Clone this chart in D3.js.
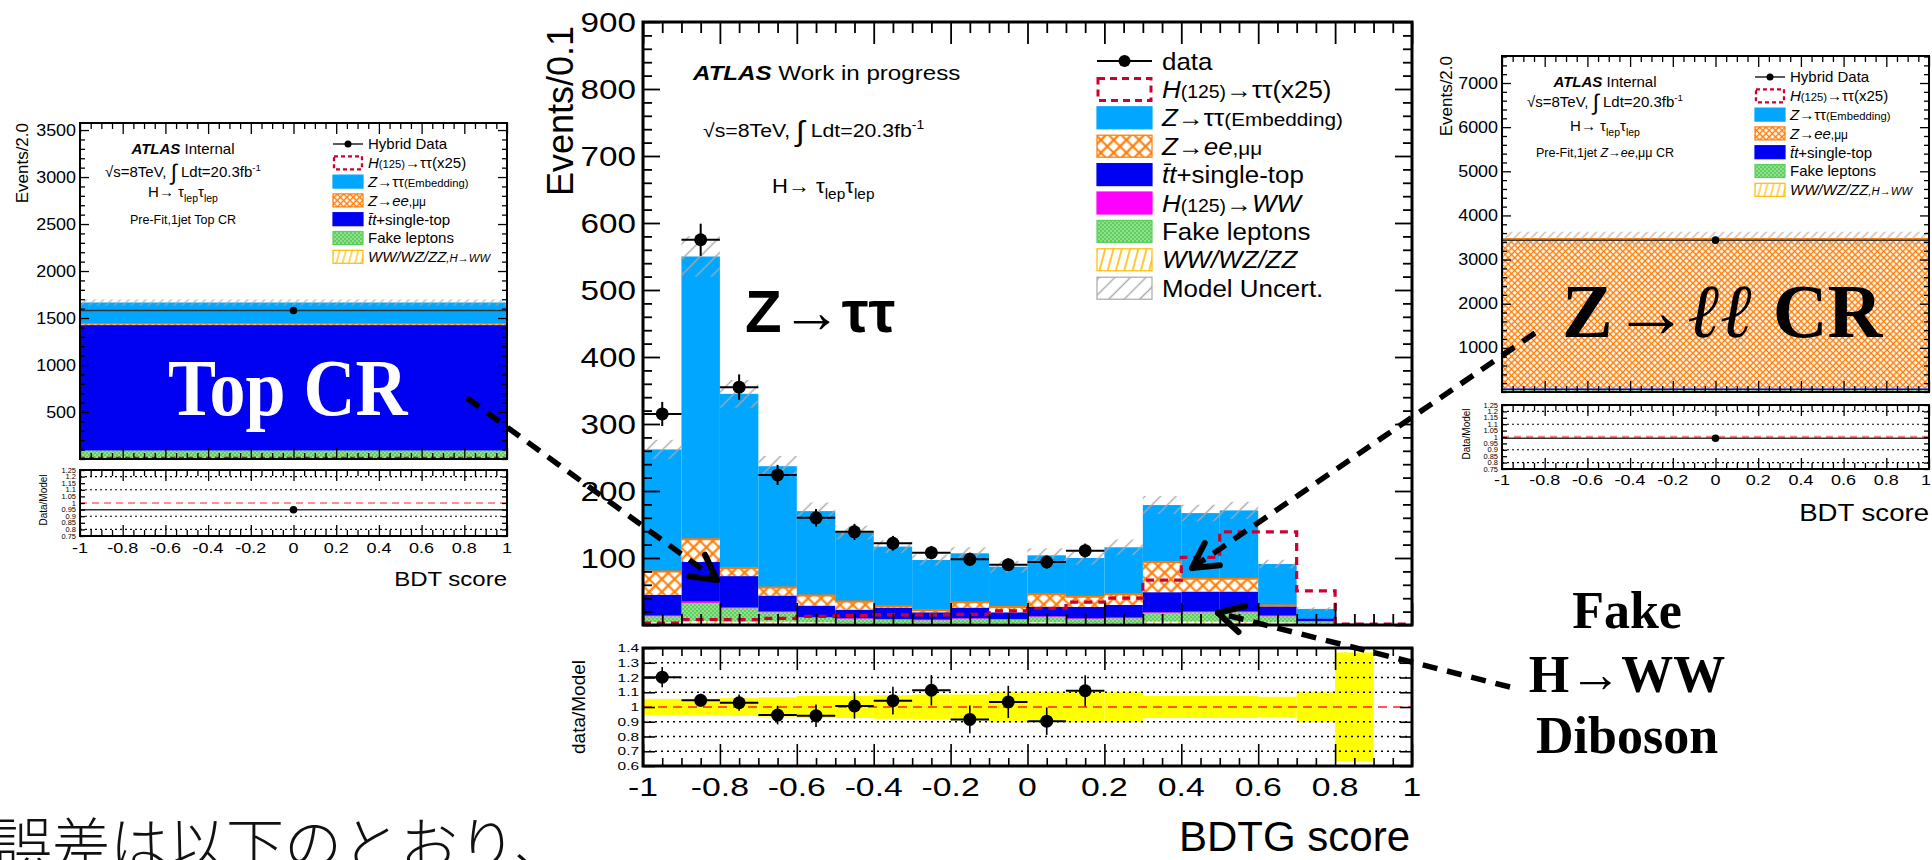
<!DOCTYPE html>
<html>
<head>
<meta charset="utf-8">
<script src="https://cdn.jsdelivr.net/npm/d3@7"></script>
<style>
  html, body { margin: 0; padding: 0; background: #fff; overflow: hidden; }
</style>
</head>
<body>
<script>
// ---------------- BDTG score distribution, 20 bins of width 0.1 ----------------
const binEdges = [-1, -0.9, -0.8, -0.7, -0.6, -0.5, -0.4, -0.3, -0.2, -0.1, 0,
                  0.1, 0.2, 0.3, 0.4, 0.5, 0.6, 0.7, 0.8, 0.9, 1];
const dibosonYield = [4, 6, 5, 5, 4, 3, 3, 3, 3, 3, 4, 3, 3, 5, 5, 5, 4, 3, 0.3, 0];
const fakeYield    = [9, 27, 20, 14, 7, 6, 5, 4, 6, 5, 8, 6, 7, 13, 14, 14, 9, 2, 0.3, 0];
const hwwYield     = [1, 2, 1, 1, 1, 1, 1, 1, 1, 1, 1, 1, 1, 1, 1, 1, 1, 1, 0.1, 0];
const topYield     = [31, 59, 47, 24, 17, 13, 17, 11, 16, 10, 14, 17, 19, 30, 30, 30, 14, 4, 0.3, 0];
const zllYield     = [35, 34, 12, 12, 15, 12, 2, 3, 8, 8, 19, 15, 16, 45, 19, 19, 1, 0, 0.2, 0];
const zttYield     = [182, 422, 260, 181, 126, 103, 89, 75, 73, 60, 58, 58, 70, 85, 98, 102, 62, 14, 0.8, 0];
const higgsX25     = [3, 8, 8, 10, 13, 14, 15, 15, 16, 21, 25, 34, 40, 67, 101, 139, 139, 51, 1.5, 1.5];
const modelUnc     = [0.055, 0.055, 0.06, 0.065, 0.075, 0.075, 0.08, 0.085, 0.085, 0.10,
                      0.10, 0.10, 0.10, 0.075, 0.075, 0.075, 0.07, 0.10, 0.37, 0];
const dataCounts   = [315, 575, 355, 224, 160, 139, 122, 108, 98, 90, 94, 111];
const dataErr      = [18, 24, 19, 15, 13, 12, 11, 10, 10, 9.5, 9.7, 10.5];

const xTickLabels     = ["-1", "-0.8", "-0.6", "-0.4", "-0.2", "0", "0.2", "0.4", "0.6", "0.8", "1"];
const yTickLabels     = ["100", "200", "300", "400", "500", "600", "700", "800", "900"];
const ratioTickLabels = ["0.6", "0.7", "0.8", "0.9", "1", "1.1", "1.2", "1.3", "1.4"];

// ---------------- control regions: one bin each ----------------
const crKeys        = ["dib", "fake", "top", "zll", "ztt"];
const topCRYield    = [10, 80, 1335, 15, 225];
const topCRData     = 1580;
const topCRHiggs    = 15;
const topCRUnc      = 0.02;
const zllCRYield    = [25, 20, 40, 3385, 5];
const zllCRData     = 3440;
const zllCRHiggs    = 10;
const zllCRUnc      = 0.045;
const topCRYTicks   = ["500", "1000", "1500", "2000", "2500", "3000", "3500"];
const zllCRYTicks   = ["1000", "2000", "3000", "4000", "5000", "6000", "7000"];
const crRatioTicks  = ["0.75", "0.8", "0.85", "0.9", "0.95", "1", "1.05", "1.1", "1.15", "1.2", "1.25"];

// ---------------- drawing ----------------
const W = 1932, H = 860;
const SANS = "'Liberation Sans', Arial, Helvetica, sans-serif";
const SERIF = "'Liberation Serif', 'Times New Roman', serif";
const C = {
  ztt: "#00a6ff", top: "#0000f2", hww: "#ff00ff", higgs: "#cc0033",
  zll: "#ff7a00", dib: "#ffbb00", fake: "#5ccf5c", band: "#ffff00"
};

const svg = d3.select("body").append("svg").attr("width", W).attr("height", H);
svg.append("rect").attr("width", W).attr("height", H).attr("fill", "#fff");
const defs = svg.append("defs");

function addPattern(id, size, bg, rot, draw) {
  const p = defs.append("pattern").attr("id", id)
    .attr("patternUnits", "userSpaceOnUse").attr("width", size).attr("height", size);
  if (rot) p.attr("patternTransform", `rotate(${rot})`);
  if (bg) p.append("rect").attr("width", size).attr("height", size).attr("fill", bg);
  draw(p, size);
}
const gridLines = (sw, col) => (p, s) => p.append("path")
  .attr("d", `M0,${s / 2}H${s}M${s / 2},0V${s}`).attr("stroke", col).attr("stroke-width", sw);
const vLine = (sw, col) => (p, s) => p.append("path")
  .attr("d", `M${s / 2},0V${s}`).attr("stroke", col).attr("stroke-width", sw);
const dots = (p, s) => {
  p.append("circle").attr("cx", s / 4).attr("cy", s / 4).attr("r", 0.8).attr("fill", "#d8f5d8");
  p.append("circle").attr("cx", 3 * s / 4).attr("cy", 3 * s / 4).attr("r", 0.8).attr("fill", "#d8f5d8");
};
addPattern("zllP", 9, "#fff", 45, gridLines(2.2, C.zll));
addPattern("zllS", 4.5, "#fff", 45, gridLines(1.4, C.zll));
addPattern("fakeP", 4, C.fake, 0, dots);
addPattern("dibP", 8, "#fff", 15, vLine(1.6, C.dib));
addPattern("dibS", 6, "#fff", 15, vLine(1.2, C.dib));
addPattern("hatchP", 11, null, 45, vLine(1.4, "#a8a8a8"));
addPattern("hatchS", 6, null, 45, vLine(1.1, "#a8a8a8"));

// text with optional italic / smaller / super- and subscript pieces
function rich(g, x, y, parts, o = {}) {
  const size = o.size || 20;
  let tr = `translate(${x},${y})`;
  if (o.rotate) tr += ` rotate(${o.rotate})`;
  if (o.sx && o.sx !== 1) tr += ` scale(${o.sx},1)`;
  const t = g.append("text").attr("transform", tr)
    .attr("font-family", o.family || SANS).attr("font-size", size)
    .attr("text-anchor", o.anchor || "start").attr("fill", o.fill || "#000")
    .attr("font-weight", o.weight || "normal").attr("font-style", o.style || "normal");
  let shift = 0;
  (Array.isArray(parts) ? parts : [parts]).forEach(p => {
    if (typeof p === "string") p = { t: p };
    const target = p.sup ? -0.42 * size : p.sub ? 0.3 * size : (p.dy || 0);
    const ts = t.append("tspan").text(p.t);
    if (target !== shift) { ts.attr("dy", target - shift); shift = target; }
    if (p.f) ts.attr("font-size", size * p.f);
    if (p.i) ts.attr("font-style", "italic");
    if (p.b) ts.attr("font-weight", "bold");
    if (p.family) ts.attr("font-family", p.family);
  });
  return t;
}

// inward ticks on all four sides of a frame, drawn with d3 axis generators
function frameTicks(g, x, y, o) {
  const [x0, x1] = x.range(), [yb, yt] = y.range();
  const side = (gen, tr, vals, len) => g.append("g").attr("transform", tr)
    .call(gen.tickValues(vals).tickSize(-len).tickFormat(""))
    .call(s => s.select(".domain").remove())
    .selectAll("line").attr("stroke", "#000").attr("stroke-width", o.tw || 1.6);
  side(d3.axisBottom(x), `translate(0,${yb})`, o.xMaj, o.xMajLen);
  side(d3.axisBottom(x), `translate(0,${yb})`, o.xMin, o.xMinLen);
  side(d3.axisTop(x), `translate(0,${yt})`, o.xMaj, o.xMajLen);
  side(d3.axisTop(x), `translate(0,${yt})`, o.xMin, o.xMinLen);
  side(d3.axisLeft(y), `translate(${x0},0)`, o.yMaj, o.yMajLen);
  side(d3.axisRight(y), `translate(${x1},0)`, o.yMaj, o.yMajLen);
  if (o.yMin) {
    side(d3.axisLeft(y), `translate(${x0},0)`, o.yMin, o.yMinLen);
    side(d3.axisRight(y), `translate(${x1},0)`, o.yMin, o.yMinLen);
  }
  g.append("rect").attr("x", x0).attr("y", yt).attr("width", x1 - x0).attr("height", yb - yt)
    .attr("fill", "none").attr("stroke", "#000").attr("stroke-width", o.fw || 3);
}

const xMajorVals = xTickLabels.map(Number);
const xMinorVals = d3.range(-1, 1.0001, 0.05).map(v => +v.toFixed(2)).filter(v => !xMajorVals.includes(v));

// ================= main panel =================
const main = svg.append("g");
const x = d3.scaleLinear().domain([-1, 1]).range([643, 1412]);
const y = d3.scaleLinear().domain([0, 900]).range([625, 22]);
const yr = d3.scaleLinear().domain([0.6, 1.4]).range([766, 648]);

const stackKeys = ["dib", "fake", "hww", "top", "zll", "ztt"];
const rows = binEdges.slice(0, -1).map((e, i) => ({
  dib: dibosonYield[i], fake: fakeYield[i], hww: hwwYield[i],
  top: topYield[i], zll: zllYield[i], ztt: zttYield[i]
}));
const series = d3.stack().keys(stackKeys)(rows);
const fills = { dib: "url(#dibP)", fake: "url(#fakeP)", hww: C.hww, top: C.top, zll: "url(#zllP)", ztt: C.ztt };
const total = rows.map(r => stackKeys.reduce((s, k) => s + r[k], 0));

series.forEach(s => {
  main.append("g").selectAll("rect").data(s.map((d, i) => ({ d, i })).filter(e => e.d[1] > e.d[0]))
    .join("rect")
    .attr("x", e => x(binEdges[e.i])).attr("width", e => x(binEdges[e.i + 1]) - x(binEdges[e.i]))
    .attr("y", e => y(e.d[1])).attr("height", e => y(e.d[0]) - y(e.d[1]))
    .attr("fill", fills[s.key]);
});
// orange outline on top of the Z->ee,mumu component
const zllSeries = series.find(s => s.key === "zll");
main.append("g").selectAll("line").data(zllSeries.map((d, i) => ({ d, i })).filter(e => e.d[1] - e.d[0] > 0.5))
  .join("line")
  .attr("x1", e => x(binEdges[e.i])).attr("x2", e => x(binEdges[e.i + 1]))
  .attr("y1", e => y(e.d[1])).attr("y2", e => y(e.d[1]))
  .attr("stroke", C.zll).attr("stroke-width", 2);

// model uncertainty hatch
main.append("g").selectAll("rect").data(total.map((t, i) => ({ t, i })).filter(e => e.t > 0 && modelUnc[e.i] > 0))
  .join("rect")
  .attr("x", e => x(binEdges[e.i])).attr("width", e => x(binEdges[e.i + 1]) - x(binEdges[e.i]))
  .attr("y", e => y(e.t * (1 + modelUnc[e.i]))).attr("height", e => y(e.t * (1 - modelUnc[e.i])) - y(e.t * (1 + modelUnc[e.i])))
  .attr("fill", "url(#hatchP)");

// H->tautau x25 dashed outline
const higgsPts = binEdges.map((e, i) => [e, higgsX25[Math.min(i, higgsX25.length - 1)]]);
main.append("path").datum(higgsPts)
  .attr("d", d3.line().x(d => x(d[0])).y(d => y(d[1])).curve(d3.curveStepAfter))
  .attr("fill", "none").attr("stroke", C.higgs).attr("stroke-width", 3.2).attr("stroke-dasharray", "8,6");

// data points
const dataG = main.append("g");
dataCounts.forEach((v, i) => {
  const cx = x((binEdges[i] + binEdges[i + 1]) / 2);
  dataG.append("line").attr("x1", x(binEdges[i])).attr("x2", x(binEdges[i + 1]))
    .attr("y1", y(v)).attr("y2", y(v)).attr("stroke", "#000").attr("stroke-width", 2);
  dataG.append("line").attr("x1", cx).attr("x2", cx)
    .attr("y1", y(v + dataErr[i])).attr("y2", y(v - dataErr[i])).attr("stroke", "#000").attr("stroke-width", 2);
  dataG.append("circle").attr("cx", cx).attr("cy", y(v)).attr("r", 6.5).attr("fill", "#000");
});

frameTicks(main, x, y, {
  xMaj: xMajorVals, xMin: xMinorVals, xMajLen: 22, xMinLen: 11,
  yMaj: yTickLabels.map(Number).concat([0]), yMin: d3.range(20, 900, 20).filter(v => v % 100),
  yMajLen: 17, yMinLen: 9, fw: 3, tw: 1.8
});
yTickLabels.forEach(l => rich(main, 636, y(+l) + 9.5, l, { size: 27, sx: 1.23, anchor: "end" }));
rich(main, 573, 26, "Events/0.1", { size: 36, rotate: -90, anchor: "end" });

// header texts
rich(main, 693, 80, [{ t: "ATLAS", b: 1, i: 1 }, " Work in progress"], { size: 21, sx: 1.15 });
rich(main, 703, 137, ["√s=8TeV, ", { t: "∫", f: 1.5, dy: 4 }, { t: " Ldt=20.3fb" }, { t: "-1", sup: 1, f: 0.65 }], { size: 19, sx: 1.12 });
rich(main, 772, 193, ["H→ τ", { t: "lep", sub: 1, f: 0.7 }, "τ", { t: "lep", sub: 1, f: 0.7 }], { size: 20, sx: 1.1 });

// legend
const legX = 1097, legW = 55, legH = 22, legTx = 1162, legY0 = 61, legDy = 28.4;
const legEntries = [
  { type: "data", label: ["data"] },
  { type: "dash", label: [{ t: "H", i: 1 }, { t: "(125)", f: 0.75 }, "→ττ(x25)"] },
  { fill: C.ztt, stroke: C.ztt, label: [{ t: "Z", i: 1 }, "→ττ", { t: "(Embedding)", f: 0.8 }] },
  { fill: "url(#zllP)", stroke: C.zll, label: [{ t: "Z", i: 1 }, "→", { t: "ee", i: 1 }, { t: ",μμ", f: 0.8 }] },
  { fill: C.top, stroke: C.top, label: [{ t: "t̄t", i: 1 }, "+single-top"] },
  { fill: C.hww, stroke: C.hww, label: [{ t: "H", i: 1 }, { t: "(125)", f: 0.75 }, "→", { t: "WW", i: 1 }] },
  { fill: "url(#fakeP)", stroke: C.fake, label: ["Fake leptons"] },
  { fill: "url(#dibP)", stroke: C.dib, label: [{ t: "WW/WZ/ZZ", i: 1 }] },
  { fill: "url(#hatchP)", stroke: "#a8a8a8", label: ["Model Uncert."] }
];
function legend(g, entries, o) {
  entries.forEach((e, i) => {
    const cy = o.y0 + i * o.dy;
    if (e.type === "data") {
      g.append("line").attr("x1", o.x).attr("x2", o.x + o.w).attr("y1", cy).attr("y2", cy)
        .attr("stroke", "#000").attr("stroke-width", o.lw);
      g.append("circle").attr("cx", o.x + o.w / 2).attr("cy", cy).attr("r", o.r).attr("fill", "#000");
    } else if (e.type === "dash") {
      g.append("rect").attr("x", o.x + 1).attr("y", cy - o.h / 2).attr("width", o.w - 2).attr("height", o.h)
        .attr("fill", "none").attr("stroke", C.higgs).attr("stroke-width", o.lw + 1)
        .attr("stroke-dasharray", o.dash);
    } else {
      g.append("rect").attr("x", o.x).attr("y", cy - o.h / 2).attr("width", o.w).attr("height", o.h)
        .attr("fill", e.fill).attr("stroke", e.stroke).attr("stroke-width", 1.2);
    }
    rich(g, o.tx, cy + o.size * 0.36, e.label, { size: o.size, sx: o.sx });
  });
}
legend(main, legEntries, { x: legX, w: legW, h: legH, tx: legTx, y0: legY0, dy: legDy, size: 24, sx: 1.08, lw: 2, r: 6, dash: "7,5" });

// ---- ratio panel ----
const ratio = svg.append("g");
ratio.append("g").selectAll("rect").data(modelUnc.map((u, i) => ({ u, i })).filter(e => e.u > 0))
  .join("rect")
  .attr("x", e => x(binEdges[e.i])).attr("width", e => x(binEdges[e.i + 1]) - x(binEdges[e.i]))
  .attr("y", e => yr(1 + e.u)).attr("height", e => yr(1 - e.u) - yr(1 + e.u))
  .attr("fill", C.band);
[0.7, 0.8, 0.9, 1.1, 1.2, 1.3].forEach(v => ratio.append("line")
  .attr("x1", x(-1)).attr("x2", x(1)).attr("y1", yr(v)).attr("y2", yr(v))
  .attr("stroke", "#000").attr("stroke-width", 1.6).attr("stroke-dasharray", "2,4"));
ratio.append("line").attr("x1", x(-1)).attr("x2", x(1)).attr("y1", yr(1)).attr("y2", yr(1))
  .attr("stroke", "#ff2020").attr("stroke-width", 1.5).attr("stroke-dasharray", "9,6");
dataCounts.forEach((v, i) => {
  const r = v / total[i], er = dataErr[i] / total[i];
  const cx = x((binEdges[i] + binEdges[i + 1]) / 2);
  ratio.append("line").attr("x1", x(binEdges[i])).attr("x2", x(binEdges[i + 1]))
    .attr("y1", yr(r)).attr("y2", yr(r)).attr("stroke", "#000").attr("stroke-width", 2);
  ratio.append("line").attr("x1", cx).attr("x2", cx).attr("y1", yr(r + er)).attr("y2", yr(r - er))
    .attr("stroke", "#000").attr("stroke-width", 1.6);
  ratio.append("circle").attr("cx", cx).attr("cy", yr(r)).attr("r", 6.5).attr("fill", "#000");
});
frameTicks(ratio, x, yr, {
  xMaj: xMajorVals, xMin: xMinorVals, xMajLen: 22, xMinLen: 8,
  yMaj: ratioTickLabels.map(Number), yMajLen: 12, fw: 3, tw: 1.6
});
ratioTickLabels.forEach(l => rich(ratio, 639, yr(+l) + 4, l, { size: 11, sx: 1.4, anchor: "end" }));
xTickLabels.forEach(l => rich(ratio, x(+l), 796, l, { size: 25, sx: 1.35, anchor: "middle" }));
rich(ratio, 585, 707, "data/Model", { size: 19, rotate: -90, anchor: "middle" });
rich(ratio, 1410, 851, "BDTG score", { size: 42, anchor: "end" });

// ================= control-region panels =================
function crPanel(cfg) {
  const g = svg.append("g");
  const cx = d3.scaleLinear().domain([-1, 1]).range([cfg.x0, cfg.x1]);
  const cy = d3.scaleLinear().domain([0, cfg.ymax]).range([cfg.yb, cfg.yt]);
  const cr = d3.scaleLinear().domain([0.75, 1.25]).range([cfg.rb, cfg.rt]);
  const row = {}; crKeys.forEach((k, i) => row[k] = cfg.yields[i]);
  const st = d3.stack().keys(crKeys)([row]);
  const f = { dib: "url(#dibS)", fake: "url(#fakeP)", top: C.top, zll: "url(#zllS)", ztt: C.ztt };
  st.forEach(s => g.append("rect").attr("x", cx(-1)).attr("width", cx(1) - cx(-1))
    .attr("y", cy(s[0][1])).attr("height", cy(s[0][0]) - cy(s[0][1])).attr("fill", f[s.key]));
  const tot = d3.sum(cfg.yields);
  g.append("line").attr("x1", cx(-1)).attr("x2", cx(1)).attr("y1", cy(st[3][0][1])).attr("y2", cy(st[3][0][1]))
    .attr("stroke", C.zll).attr("stroke-width", 1.5);
  g.append("rect").attr("x", cx(-1)).attr("width", cx(1) - cx(-1))
    .attr("y", cy(tot * (1 + cfg.unc))).attr("height", cy(tot * (1 - cfg.unc)) - cy(tot * (1 + cfg.unc)))
    .attr("fill", "url(#hatchS)");
  g.append("line").attr("x1", cx(-1)).attr("x2", cx(1)).attr("y1", cy(cfg.higgs)).attr("y2", cy(cfg.higgs))
    .attr("stroke", C.higgs).attr("stroke-width", 1.5).attr("stroke-dasharray", "5,4");
  g.append("line").attr("x1", cx(-1)).attr("x2", cx(1)).attr("y1", cy(cfg.data)).attr("y2", cy(cfg.data))
    .attr("stroke", "#333").attr("stroke-width", 1.5);
  g.append("circle").attr("cx", cx(0)).attr("cy", cy(cfg.data)).attr("r", 3.8).attr("fill", "#000");

  const yVals = cfg.yTicks.map(Number);
  frameTicks(g, cx, cy, {
    xMaj: xMajorVals, xMin: xMinorVals, xMajLen: 11, xMinLen: 6,
    yMaj: yVals, yMin: d3.range(0, cfg.ymax, cfg.minorStep).filter(v => !yVals.includes(v)),
    yMajLen: 9, yMinLen: 5, fw: 2, tw: 1.3
  });
  cfg.yTicks.forEach(l => rich(g, cfg.x0 - 4, cy(+l) + 5.5, l, { size: 16, sx: 1.12, anchor: "end" }));
  rich(g, cfg.titleX, cfg.yt, "Events/2.0", { size: 17, rotate: -90, anchor: "end" });

  const tx = cfg.textX;
  rich(g, tx, cfg.textY[0], [{ t: "ATLAS", b: 1, i: 1 }, " Internal"], { size: 15, anchor: "middle" });
  rich(g, tx, cfg.textY[1], ["√s=8TeV, ", { t: "∫", f: 1.5, dy: 3 }, { t: " Ldt=20.3fb" }, { t: "-1", sup: 1, f: 0.65 }], { size: 15, anchor: "middle" });
  rich(g, tx, cfg.textY[2], ["H→ τ", { t: "lep", sub: 1, f: 0.7 }, "τ", { t: "lep", sub: 1, f: 0.7 }], { size: 15, anchor: "middle" });
  rich(g, tx, cfg.textY[3], cfg.regionLabel, { size: 12.5, anchor: "middle" });

  legend(g, [
    { type: "data", label: ["Hybrid Data"] },
    { type: "dash", label: [{ t: "H", i: 1 }, { t: "(125)", f: 0.75 }, "→ττ(x25)"] },
    { fill: C.ztt, stroke: C.ztt, label: [{ t: "Z", i: 1 }, "→ττ", { t: "(Embedding)", f: 0.75 }] },
    { fill: "url(#zllS)", stroke: C.zll, label: [{ t: "Z", i: 1 }, "→", { t: "ee", i: 1 }, { t: ",μμ", f: 0.8 }] },
    { fill: C.top, stroke: C.top, label: [{ t: "t̄t", i: 1 }, "+single-top"] },
    { fill: "url(#fakeP)", stroke: C.fake, label: ["Fake leptons"] },
    { fill: "url(#dibS)", stroke: C.dib, label: [{ t: "WW/WZ/ZZ", i: 1 }, { t: ",H→WW", i: 1, f: 0.75 }] }
  ], { x: cfg.legX, w: 30, h: 13, tx: cfg.legX + 35, y0: cfg.legY0, dy: 18.8, size: 15, sx: 1.0, lw: 1.3, r: 3.5, dash: "4,3" });

  // ratio
  [0.8, 0.9, 1.1, 1.2].forEach(v => g.append("line")
    .attr("x1", cx(-1)).attr("x2", cx(1)).attr("y1", cr(v)).attr("y2", cr(v))
    .attr("stroke", "#000").attr("stroke-width", 1.1).attr("stroke-dasharray", "2,3"));
  g.append("line").attr("x1", cx(-1)).attr("x2", cx(1)).attr("y1", cr(1)).attr("y2", cr(1))
    .attr("stroke", cfg.oneColor).attr("stroke-width", cfg.oneWidth).attr("stroke-dasharray", "7,5");
  const rv = cfg.data / tot;
  g.append("line").attr("x1", cx(-1)).attr("x2", cx(1)).attr("y1", cr(rv)).attr("y2", cr(rv))
    .attr("stroke", "#333").attr("stroke-width", 1.5);
  g.append("circle").attr("cx", cx(0)).attr("cy", cr(rv)).attr("r", 3.8).attr("fill", "#000");
  frameTicks(g, cx, cr, {
    xMaj: xMajorVals, xMin: xMinorVals, xMajLen: 11, xMinLen: 6,
    yMaj: crRatioTicks.map(Number), yMajLen: 5, fw: 2, tw: 1.3
  });
  crRatioTicks.forEach(l => rich(g, cfg.x0 - 4, cr(+l) + 2.6, l, { size: 7.5, anchor: "end" }));
  xTickLabels.forEach(l => rich(g, Math.min(cx(+l), W - 6), cfg.xLabY, l, { size: 15, sx: 1.2, anchor: "middle" }));
  rich(g, cfg.ratioTitleX, (cfg.rt + cfg.rb) / 2 - 3, "Data/Model", { size: 10, rotate: -90, anchor: "middle" });
  rich(g, Math.min(cfg.x1, W - 2), cfg.bdtY, "BDT score", { size: cfg.bdtSize, sx: 1.2, anchor: "end" });
  return g;
}

crPanel({
  x0: 80, x1: 507, yt: 123, yb: 459, ymax: 3575, rt: 470, rb: 536,
  yields: topCRYield, data: topCRData, higgs: topCRHiggs, unc: topCRUnc,
  yTicks: topCRYTicks, minorStep: 100, titleX: 28,
  textX: 183, textY: [154, 177, 197, 224], regionLabel: "Pre-Fit,1jet Top CR",
  legX: 333, legY0: 144, xLabY: 553, ratioTitleX: 47, bdtY: 586, bdtSize: 20,
  oneColor: "#ff2020", oneWidth: 1.2
});
crPanel({
  x0: 1502, x1: 1929, yt: 56, yb: 392, ymax: 7612, rt: 405, rb: 469,
  yields: zllCRYield, data: zllCRData, higgs: zllCRHiggs, unc: zllCRUnc,
  yTicks: zllCRYTicks, minorStep: 200, titleX: 1452,
  textX: 1605, textY: [87, 107, 131, 157],
  regionLabel: ["Pre-Fit,1jet ", { t: "Z", i: 1 }, "→", { t: "ee", i: 1 }, ",μμ CR"],
  legX: 1755, legY0: 77, xLabY: 485, ratioTitleX: 1470, bdtY: 521, bdtSize: 23,
  oneColor: "#ff8080", oneWidth: 2.6
});

// ================= annotations =================
const ann = svg.append("g");
rich(ann, 745, 332, "Z→ττ", { size: 60, weight: "bold" });
rich(ann, 168, 415, "Top CR", { size: 80, weight: "bold", family: SERIF, fill: "#fff", sx: 0.9 });
rich(ann, 1562, 337, ["Z→", { t: "ℓℓ", i: 1 }, " CR"], { size: 76, weight: "bold", family: SERIF });
rich(ann, 1627, 628, "Fake", { size: 52, weight: "bold", family: SERIF, anchor: "middle" });
rich(ann, 1627, 692, "H→WW", { size: 52, weight: "bold", family: SERIF, anchor: "middle" });
rich(ann, 1627, 753, "Diboson", { size: 52, weight: "bold", family: SERIF, anchor: "middle" });

function dashedArrow(from, tip, headLen = 28) {
  ann.append("line").attr("x1", from[0]).attr("y1", from[1]).attr("x2", tip[0]).attr("y2", tip[1])
    .attr("stroke", "#000").attr("stroke-width", 5.5).attr("stroke-dasharray", "15,10");
  const a = Math.atan2(from[1] - tip[1], from[0] - tip[0]);
  [-0.5, 0.5].forEach(da => ann.append("line")
    .attr("x1", tip[0]).attr("y1", tip[1])
    .attr("x2", tip[0] + headLen * Math.cos(a + da)).attr("y2", tip[1] + headLen * Math.sin(a + da))
    .attr("stroke", "#000").attr("stroke-width", 6).attr("stroke-linecap", "round"));
}
dashedArrow([467, 398], [717, 580]);
dashedArrow([1535, 333], [1192, 568]);
dashedArrow([1510, 687], [1218, 613]);

rich(svg, -6, 866, "誤差は以下のとおり、", { size: 58, family: "'Noto Sans CJK JP', sans-serif", weight: 300, fill: "#111" });
</script>
</body>
</html>
